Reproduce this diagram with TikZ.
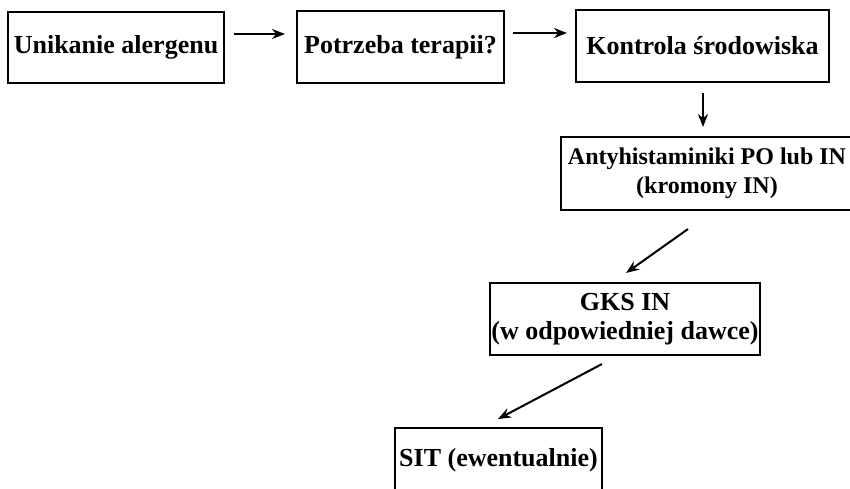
\documentclass[tikz,border=0pt]{standalone}
\usepackage{fontspec}
\setmainfont{Liberation Serif}
\usetikzlibrary{arrows.meta}
\begin{document}
\begin{tikzpicture}[x=0.5pt,y=-0.5pt,>={Stealth[length=6.5pt,width=5pt]},font=\fontsize{13}{14.5}\selectfont\bfseries,
		box/.style={draw,line width=1pt,inner sep=0pt,align=center},
		link/.style={->,line width=1pt}]
			\useasboundingbox (0,0) rectangle (850,488);
			\node[box,minimum width=108pt,minimum height=35.5pt] (unik) at (116,47.5) {Unikanie alergenu};
			\node[box,minimum width=103.5pt,minimum height=36pt] (potr) at (400.5,47) {Potrzeba terapii?};
			\node[box,minimum width=126.5pt,minimum height=36pt] (kont) at (702.5,46) {Kontrola środowiska};
			\node[box,minimum width=146pt,minimum height=36.5pt,font=\fontsize{12}{14.5}\selectfont\bfseries] (anty) at (707,173.5) {Antyhistaminiki PO lub IN\\(kromony IN)};
			\node[box,minimum width=135pt,minimum height=36pt] (gks) at (625,319) {GKS IN\\(w odpowiedniej dawce)};
			\node[box,minimum width=103.5pt,minimum height=32pt] (sit) at (498.5,460) {SIT (ewentualnie)};
			\draw[link] ([shift={(4.5pt,6.75pt)}]unik.east) -- ([shift={(-5.5pt,6.5pt)}]potr.west);
			\draw[link] ([shift={(4pt,7pt)}]potr.east) -- ([shift={(-4pt,6.5pt)}]kont.west);
			\draw[link] ([shift={(0.25pt,-5pt)}]kont.south) -- ([shift={(-2pt,4.5pt)}]anty.north);
			\draw[link] ([shift={(-9.5pt,-9pt)}]anty.south) -- ([shift={(0.5pt,4.5pt)}]gks.north);
			\draw[link] ([shift={(-11.5pt,-4pt)}]gks.south) -- ([shift={(-0.25pt,4pt)}]sit.north);
		\end{tikzpicture}
\end{document}
